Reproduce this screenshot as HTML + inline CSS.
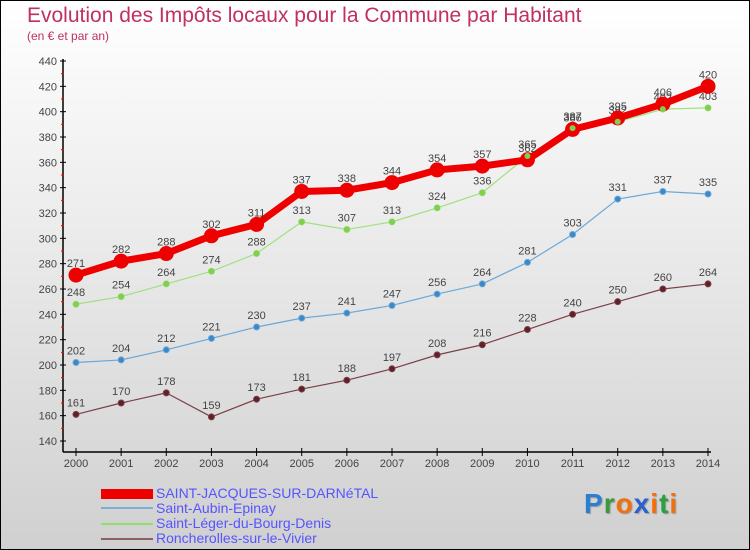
<!DOCTYPE html>
<html><head><meta charset="utf-8">
<style>
body{margin:0}
#wrap{position:relative;width:748px;height:548px;border:1px solid #000;background:linear-gradient(#fff,#d0d0d0);font-family:"Liberation Sans",sans-serif;overflow:hidden}
.t{position:absolute;white-space:nowrap}
</style></head><body>
<div id="wrap">
<div class="t" style="left:26px;top:3px;font-size:21px;color:#c03060">Evolution des Impôts locaux pour la Commune par Habitant</div>
<div class="t" style="left:26px;top:28px;font-size:12px;color:#c03060">(en € et par an)</div>
<svg id="chart" width="750" height="550" style="position:absolute;left:0;top:0"></svg>
<div>
<div class="t" style="left:100px;top:488px;width:52px;height:10px;background:#e00"></div>
<div class="t" style="left:155px;top:484px;font-size:14px;color:#55f">SAINT-JACQUES-SUR-DARNéTAL</div>
<div class="t" style="left:100px;top:506px;width:52px;height:2px;background:#7ab0d8"></div>
<div class="t" style="left:155px;top:499px;font-size:14px;color:#55f">Saint-Aubin-Epinay</div>
<div class="t" style="left:100px;top:522px;width:52px;height:2px;background:#90e070"></div>
<div class="t" style="left:155px;top:514px;font-size:14px;color:#55f">Saint-Léger-du-Bourg-Denis</div>
<div class="t" style="left:100px;top:537px;width:52px;height:2px;background:#906060"></div>
<div class="t" style="left:155px;top:529px;font-size:14px;color:#55f">Roncherolles-sur-le-Vivier</div>
</div>
<div class="t" style="left:583px;top:487px;font-size:28px;font-weight:bold;letter-spacing:1px;text-shadow:1px 1px 1px #999"><span style="color:#2a7fd0">P</span><span style="color:#3a9a3a">r</span><span style="color:#f07010">o</span><span style="color:#2a60d0">x</span><span style="color:#f07010">i</span><span style="color:#2aa040">t</span><span style="color:#f07010">i</span></div>
</div>
<script>
const years=[2000,2001,2002,2003,2004,2005,2006,2007,2008,2009,2010,2011,2012,2013,2014];
const yTicks=[140,160,180,200,220,240,260,280,300,320,340,360,380,400,420,440];
const stJacques=[271,282,288,302,311,337,338,344,354,357,362,386,395,406,420];
const stAubin=[202,204,212,221,230,237,241,247,256,264,281,303,331,337,335];
const stLeger=[248,254,264,274,288,313,307,313,324,336,365,387,392,402,403];
const roncherolles=[161,170,178,159,173,181,188,197,208,216,228,240,250,260,264];
const NS="http://www.w3.org/2000/svg";
const svg=document.getElementById('chart');
const X=i=>75+i*(707-75)/(years.length-1);
const Y=v=>440-(v-140)*380/300;
function mk(t,a){const e=document.createElementNS(NS,t);for(const k in a)e.setAttribute(k,a[k]);svg.appendChild(e);return e;}
let e=mk('line',{x1:62,y1:58,x2:62,y2:451,stroke:'#000','stroke-width':1.5});


e=mk('line',{x1:62,y1:451,x2:710,y2:451,stroke:'#000','stroke-width':1.5});


yTicks.forEach(v=>{
 mk('line',{x1:59,x2:65,y1:Y(v),y2:Y(v),stroke:'#000'});
 if(v<440)mk('line',{x1:60,x2:63,y1:Y(v+10),y2:Y(v+10),stroke:'#f00'});
 const t=mk('text',{x:56,y:Y(v)+4,'text-anchor':'end','font-size':11,fill:'#444'});t.textContent=v;
 
 
});
years.forEach((yr,i)=>{
 mk('line',{x1:X(i),x2:X(i),y1:447,y2:455,stroke:'#000'});
 const t=mk('text',{x:X(i),y:466,'text-anchor':'middle','font-size':11,fill:'#444'});t.textContent=yr;
 
 
});
function series(d,color,w,r,name,dot,lab){
 const p=mk('polyline',{points:d.map((v,i)=>X(i)+','+Y(v)).join(' '),fill:'none',stroke:color,'stroke-width':w,'stroke-linejoin':'round'});
 
 
 d.forEach((v,i)=>{
  const c=mk('circle',{cx:X(i),cy:Y(v),r:r,fill:dot,stroke:color,'stroke-width':1});
  
  
  const t=mk('text',{x:X(i),y:Y(v)-8,'text-anchor':'middle','font-size':11,fill:lab});t.textContent=v;
  
  
 });
}
series(roncherolles,'#7a4048',1.2,3,'roncherolles','#602028','#444');
series(stAubin,'#6aa8d8',1.2,3,'saint-aubin','#3a88c8','#444');
series(stLeger,'#a0e080',1.2,3,'saint-leger','#70c840','#444');
series(stJacques,'#e00',7,7,'saint-jacques','#e00','#444');
const gl=mk('g',{});
stLeger.forEach((v,i)=>{const c=mk('circle',{cx:X(i),cy:Y(v),r:3,fill:'#80d050'});});
</script>
</body></html>
